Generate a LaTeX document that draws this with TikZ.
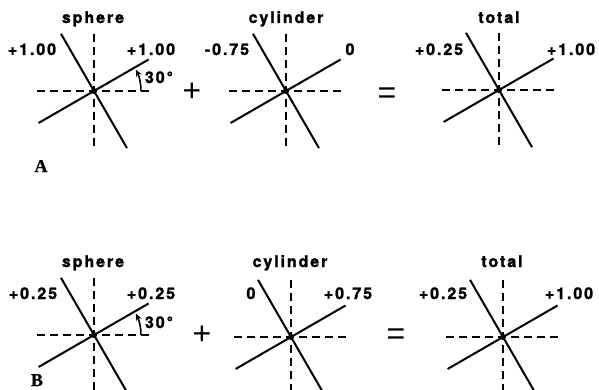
\documentclass[tikz,border=0pt]{standalone}
\usepackage{fontspec}
\usetikzlibrary{arrows.meta,calc}
\newfontfamily\labfont{TeX Gyre Heros}[LetterSpace=12, BoldFeatures={FakeBold=1.6}]
\newfontfamily\signfont{Liberation Sans}
\newfontfamily\letfont{Liberation Serif}[BoldFeatures={FakeBold=0.8}]
\tikzset{
  x=1pt, y=-1pt,
  axis/.style={line width=1.4pt, dash pattern=on 8pt off 5pt},
  vec/.style={line width=2pt},
  lab/.style={font=\labfont\bfseries\fontsize{16}{16}\selectfont, anchor=base, inner sep=0pt},
  sgn/.style={font=\signfont\fontsize{32}{32}\selectfont, inner sep=0pt},
  let/.style={font=\letfont\bfseries\fontsize{18}{18}\selectfont, anchor=base, inner sep=0pt},
  ang/.style={line width=1.6pt, -{Stealth[length=7pt,width=6pt]}},
}
\newcommand{\panel}[1]{%
  \coordinate (#1-t) at ($(#1)+(0,-57)$);
  \coordinate (#1-b) at ($(#1)+(0,57)$);
  \coordinate (#1-l) at ($(#1)+(-57,0)$);
  \coordinate (#1-r) at ($(#1)+(57,0)$);
  \coordinate (#1-s1) at ($(#1)+(120:66pt)$);
  \coordinate (#1-s2) at ($(#1)+(-60:66pt)$);
  \coordinate (#1-f1) at ($(#1)+(30:63pt)$);
  \coordinate (#1-f2) at ($(#1)+(210:64pt)$);
  \draw[axis] (#1-t) -- (#1-b);
  \draw[axis] (#1-l) -- (#1-r);
  \draw[vec] (#1-s1) -- (#1-s2);
  \draw[vec] (#1-f1) -- (#1-f2);
  \fill (#1) circle[radius=3pt];
}
\begin{document}
\begin{tikzpicture}
\useasboundingbox (0,0) rectangle (599,390);
\clip (0,0) rectangle (599,390);
% centres
\coordinate (S1) at (94,91);
\coordinate (C1) at (286,91);
\coordinate (T1) at (499,90);
\coordinate (S2) at (94,335);
\coordinate (C2) at (291,337);
\coordinate (T2) at (503,337);
\panel{S1}\panel{C1}\panel{T1}
\panel{S2}\panel{C2}\panel{T2}
% angle arcs
\coordinate (S1-a) at ($(S1)+(0:47pt)$);
\draw[ang] (S1-a) arc[start angle=0, end angle=27, radius=47pt];
\coordinate (S2-a) at ($(S2)+(0:47pt)$);
\draw[ang] (S2-a) arc[start angle=0, end angle=27, radius=47pt];
% row A texts
\node[lab] (tS1) at (93,23) {sphere};
\node[lab] (tC1) at (286,23) {cylinder};
\node[lab] (tT1) at (499,23) {total};
\node[lab] (l1) at (32,55) {+1.00};
\node[lab] (l2) at (151,55) {+1.00};
\node[lab] (l3) at (227,55) {-0.75};
\node[lab] (l4) at (350,55) {0};
\node[lab] (l5) at (439,55) {+0.25};
\node[lab] (l6) at (571,55) {+1.00};
\node[lab] (d1) at (159,83) {30°};
\node[sgn] (p1) at (192,92) {+};
\node[sgn] (e1) at (387,96) {=};
\node[let] (A) at (41,172) {A};
% row B texts
\node[lab] (tS2) at (93,267) {sphere};
\node[lab] (tC2) at (290,267) {cylinder};
\node[lab] (tT2) at (502,267) {total};
\node[lab] (m1) at (33,299) {+0.25};
\node[lab] (m2) at (151,299) {+0.25};
\node[lab] (m3) at (251,299) {0};
\node[lab] (m4) at (348,299) {+0.75};
\node[lab] (m5) at (443,299) {+0.25};
\node[lab] (m6) at (569,299) {+1.00};
\node[lab] (d2) at (159,328) {30°};
\node[sgn] (p2) at (202,335) {+};
\node[sgn] (e2) at (396,337) {=};
\node[let] (B) at (37,386) {B};
\end{tikzpicture}
\end{document}
